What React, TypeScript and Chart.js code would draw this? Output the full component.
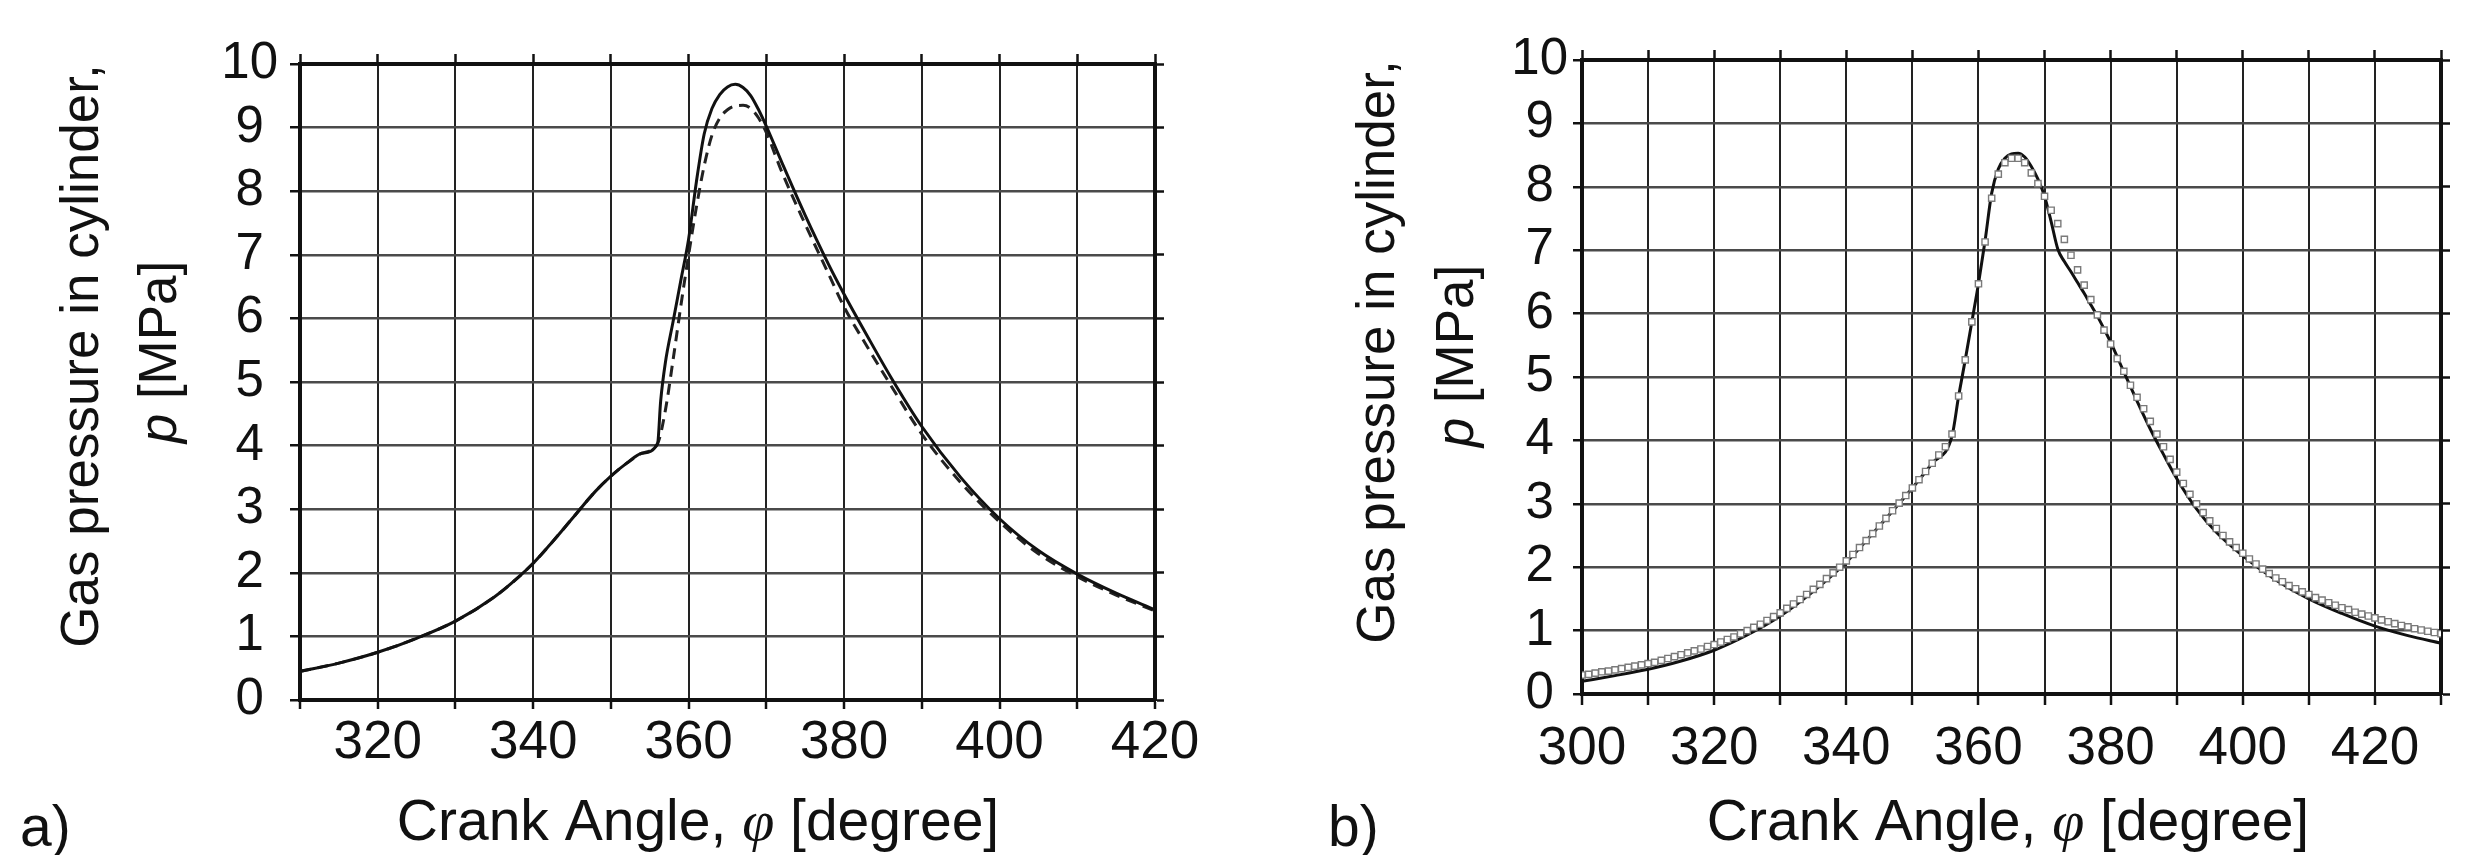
import { useEffect, useRef } from 'react';
import { Chart, registerables } from 'chart.js';

Chart.register(...registerables);

const SANS = '"Liberation Sans", Arial, Helvetica, sans-serif';
const SERIF = '"Liberation Serif", "DejaVu Serif", serif';

// ---------- Panel a) ----------
const aSolidX = [310, 315, 320, 325, 330, 335, 338, 340, 342, 345, 348, 350, 352, 354, 356, 356.4, 357, 358, 359, 360, 361, 362, 363, 364, 365, 366, 367, 368, 369, 370, 372, 375, 378, 380, 383, 386, 390, 395, 400, 405, 410, 415, 420];
const aSolidY = [0.45, 0.58, 0.75, 0.97, 1.24, 1.62, 1.92, 2.15, 2.42, 2.85, 3.28, 3.52, 3.72, 3.88, 4.03, 4.7, 5.3, 5.95, 6.6, 7.25, 8.15, 8.9, 9.3, 9.52, 9.64, 9.68, 9.63, 9.5, 9.28, 9.02, 8.45, 7.62, 6.85, 6.38, 5.72, 5.08, 4.3, 3.5, 2.85, 2.35, 1.98, 1.68, 1.42];

const aDashX = [310, 315, 320, 325, 330, 335, 338, 340, 342, 345, 348, 350, 352, 354, 356, 357, 358, 359, 360, 361, 362, 363, 364, 365, 366, 367, 368, 369, 370, 372, 375, 378, 380, 383, 386, 390, 395, 400, 405, 410, 415, 420];
const aDashY = [0.45, 0.58, 0.75, 0.97, 1.24, 1.62, 1.92, 2.15, 2.42, 2.85, 3.28, 3.52, 3.72, 3.88, 4.03, 4.55, 5.35, 6.2, 7.0, 7.75, 8.4, 8.88, 9.15, 9.28, 9.34, 9.35, 9.3, 9.15, 8.92, 8.3, 7.48, 6.7, 6.18, 5.55, 4.95, 4.18, 3.42, 2.8, 2.3, 1.94, 1.65, 1.4];

const aTickLabels = [320, 340, 360, 380, 400, 420];

// ---------- Panel b) ----------
const bSolidX = [300, 305, 310, 315, 320, 325, 330, 335, 340, 345, 350, 353, 356, 357, 358, 359, 360, 361, 362, 363, 364, 365, 366, 367, 368, 369, 370, 371, 372, 373, 374, 375, 376, 377, 378, 379, 380, 382, 384, 386, 388, 390, 393, 396, 400, 405, 410, 415, 420, 425, 430];
const bSolidY = [0.2, 0.29, 0.39, 0.52, 0.69, 0.93, 1.23, 1.62, 2.08, 2.65, 3.25, 3.64, 4.07, 4.7, 5.27, 5.87, 6.47, 7.15, 7.9, 8.28, 8.45, 8.52, 8.53, 8.47, 8.32, 8.12, 7.85, 7.45, 7.02, 6.82, 6.66, 6.49, 6.32, 6.14, 5.96, 5.76, 5.55, 5.08, 4.62, 4.18, 3.78, 3.4, 2.92, 2.55, 2.18, 1.8, 1.5, 1.27, 1.07, 0.92, 0.8];

const bSquareX = [
  300, 301, 302, 303, 304, 305, 306, 307, 308, 309,
  310, 311, 312, 313, 314, 315, 316, 317, 318, 319,
  320, 321, 322, 323, 324, 325, 326, 327, 328, 329,
  330, 331, 332, 333, 334, 335, 336, 337, 338, 339,
  340, 341, 342, 343, 344, 345, 346, 347, 348, 349,
  350, 351, 352, 353, 354, 355, 356, 357, 358, 359,
  360, 361, 362, 363, 364, 365, 366, 367, 368, 369,
  370, 371, 372, 373, 374, 375, 376, 377, 378, 379,
  380, 381, 382, 383, 384, 385, 386, 387, 388, 389,
  390, 391, 392, 393, 394, 395, 396, 397, 398, 399,
  400, 401, 402, 403, 404, 405, 406, 407, 408, 409,
  410, 411, 412, 413, 414, 415, 416, 417, 418, 419,
  420, 421, 422, 423, 424, 425, 426, 427, 428, 429,
  430,
];
const bSquareY = [
  0.30, 0.31, 0.33, 0.35, 0.36, 0.38, 0.40, 0.42, 0.44, 0.46,
  0.48, 0.50, 0.53, 0.56, 0.59, 0.62, 0.65, 0.68, 0.71, 0.75,
  0.78, 0.82, 0.86, 0.90, 0.95, 1.00, 1.05, 1.10, 1.16, 1.22,
  1.28, 1.35, 1.42, 1.49, 1.57, 1.65, 1.73, 1.82, 1.91, 2.00,
  2.10, 2.20, 2.31, 2.42, 2.53, 2.65, 2.77, 2.89, 3.01, 3.13,
  3.25, 3.38, 3.51, 3.64, 3.77, 3.90, 4.10, 4.70, 5.27, 5.87,
  6.47, 7.13, 7.82, 8.20, 8.38, 8.45, 8.45, 8.38, 8.22, 8.05,
  7.85, 7.63, 7.42, 7.17, 6.92, 6.69, 6.45, 6.22, 5.98, 5.74,
  5.52, 5.29, 5.09, 4.87, 4.68, 4.50, 4.30, 4.10, 3.90, 3.70,
  3.50, 3.32, 3.15, 3.00, 2.86, 2.73, 2.61, 2.50, 2.40, 2.31,
  2.22, 2.13, 2.05, 1.97, 1.90, 1.83, 1.77, 1.71, 1.66, 1.61,
  1.57, 1.52, 1.48, 1.44, 1.40, 1.36, 1.33, 1.29, 1.26, 1.23,
  1.20, 1.17, 1.14, 1.11, 1.08, 1.06, 1.03, 1.01, 0.99, 0.97,
  0.95,
];

const bTickLabels = [300, 320, 340, 360, 380, 400, 420];

const yTickLabels = [0, 1, 2, 3, 4, 5, 6, 7, 8, 9, 10];

const Y_TITLE_1 = 'Gas pressure in cylinder,';
const Y_TITLE_2_ITALIC = 'p';
const Y_TITLE_2_REST = ' [MPa]';
const X_TITLE_A = 'Crank Angle, ';
const X_TITLE_PHI = 'φ';
const X_TITLE_B = ' [degree]';

function pts(xs: number[], ys: number[]) {
  return xs.map((x, i) => ({ x, y: ys[i] }));
}

type Layout = {
  xMin: number;
  xMax: number;
  labels: number[];
  left: number;
  right: number;
  top: number;
  bottom: number;
  xTickLen: number;
  xPad: number;
  yTickLen: number;
  yPad: number;
  panel: string;
  panelX: number;
  xTitleX: number;
  yT1X: number;
  yT1Y: number;
  yT2X: number;
  yT2Y: number;
};

const W = 1240;
const H = 855;

function makeTitlePlugin(L: Layout) {
  return {
    id: 'customTitles',
    afterDraw(chart: any) {
      const ctx: CanvasRenderingContext2D = chart.ctx;
      ctx.save();
      ctx.fillStyle = '#111';
      ctx.textAlign = 'left';
      ctx.textBaseline = 'alphabetic';
      // x title
      const fN = `57px ${SANS}`;
      const fPhi = `italic 58px ${SERIF}`;
      const parts: [string, string][] = [
        [X_TITLE_A, fN],
        [X_TITLE_PHI, fPhi],
        [X_TITLE_B, fN],
      ];
      let total = 0;
      parts.forEach(([t, f]) => {
        ctx.font = f;
        total += ctx.measureText(t).width;
      });
      let x = L.xTitleX - total / 2;
      parts.forEach(([t, f]) => {
        ctx.font = f;
        ctx.fillText(t, x, 840);
        x += ctx.measureText(t).width;
      });
      // panel label
      ctx.font = fN;
      ctx.fillText(L.panel, L.panelX, 846);

      // y title line 1
      const fY = `53px ${SANS}`;
      const fYi = `italic 53px ${SANS}`;
      ctx.save();
      ctx.translate(L.yT1X + 14, L.yT1Y);
      ctx.rotate(-Math.PI / 2);
      ctx.font = fY;
      ctx.textAlign = 'center';
      ctx.fillText(Y_TITLE_1, 0, 0);
      ctx.restore();

      // y title line 2
      ctx.save();
      ctx.translate(L.yT2X + 14, L.yT2Y);
      ctx.rotate(-Math.PI / 2);
      ctx.textAlign = 'left';
      ctx.font = fYi;
      const wP = ctx.measureText(Y_TITLE_2_ITALIC).width;
      ctx.font = fY;
      const wR = ctx.measureText(Y_TITLE_2_REST).width;
      let sx = -(wP + wR) / 2;
      ctx.font = fYi;
      ctx.fillText(Y_TITLE_2_ITALIC, sx, 0);
      sx += wP;
      ctx.font = fY;
      ctx.fillText(Y_TITLE_2_REST, sx, 0);
      ctx.restore();

      ctx.restore();
    },
  };
}

function makeScales(L: Layout) {
  const borderCfg = { display: true, color: '#111', width: 4 };
  const tickCommon = { tickColor: '#111', tickWidth: 2.5 };
  return {
    x: {
      type: 'linear',
      position: 'bottom',
      min: L.xMin,
      max: L.xMax,
      afterFit: (s: any) => {
        s.height = H - L.bottom;
      },
      ticks: {
        stepSize: 10,
        autoSkip: false,
        maxRotation: 0,
        minRotation: 0,
        padding: L.xPad,
        color: '#111',
        font: { family: SANS, size: 53 },
        callback: (v: any) => (L.labels.includes(Number(v)) ? String(v) : ''),
      },
      grid: { color: '#222', lineWidth: 2, tickLength: L.xTickLen, ...tickCommon },
      border: borderCfg,
    },
    x2: {
      type: 'linear',
      position: 'top',
      min: L.xMin,
      max: L.xMax,
      afterFit: (s: any) => {
        s.height = L.top;
      },
      ticks: { display: false, stepSize: 10, autoSkip: false },
      grid: { drawOnChartArea: false, tickLength: 10, ...tickCommon },
      border: borderCfg,
    },
    y: {
      type: 'linear',
      position: 'left',
      min: 0,
      max: 10,
      afterFit: (s: any) => {
        s.width = L.left;
      },
      ticks: {
        stepSize: 1,
        autoSkip: false,
        crossAlign: 'center',
        padding: L.yPad,
        color: '#111',
        font: { family: SANS, size: 51 },
        callback: (v: any) => (yTickLabels.includes(Number(v)) ? String(v) : ''),
      },
      grid: { color: '#4a4a4a', lineWidth: 2.5, tickLength: L.yTickLen, ...tickCommon },
      border: borderCfg,
    },
    y2: {
      type: 'linear',
      position: 'right',
      min: 0,
      max: 10,
      afterFit: (s: any) => {
        s.width = W - L.right;
      },
      ticks: { display: false, stepSize: 1, autoSkip: false },
      grid: { drawOnChartArea: false, tickLength: 9, ...tickCommon },
      border: borderCfg,
    },
  };
}

function makeOptions(L: Layout) {
  return {
    responsive: false,
    animation: false,
    devicePixelRatio: 1,
    layout: { padding: 0 },
    plugins: {
      legend: { display: false },
      tooltip: { enabled: false },
      title: { display: false },
    },
    elements: { line: { tension: 0 } },
    scales: makeScales(L),
  };
}

const layoutA: Layout = {
  xMin: 310,
  xMax: 420,
  labels: aTickLabels,
  left: 300,
  right: 1155,
  top: 64,
  bottom: 700,
  xTickLen: 9,
  xPad: 3,
  yTickLen: 10,
  yPad: 12,
  panel: 'a)',
  panelX: 20,
  xTitleX: 698,
  yT1X: 84,
  yT1Y: 356,
  yT2X: 162,
  yT2Y: 352,
};

const layoutB: Layout = {
  xMin: 300,
  xMax: 430,
  labels: bTickLabels,
  left: 342,
  right: 1201,
  top: 60,
  bottom: 694,
  xTickLen: 11,
  xPad: 13,
  yTickLen: 9,
  yPad: 5,
  panel: 'b)',
  panelX: 88,
  xTitleX: 768,
  yT1X: 140,
  yT1Y: 352,
  yT2X: 219,
  yT2Y: 356,
};

function configA(): any {
  return {
    type: 'line',
    data: {
      datasets: [
        {
          data: pts(aSolidX, aSolidY),
          borderColor: '#111',
          borderWidth: 3,
          pointRadius: 0,
          cubicInterpolationMode: 'monotone',
          fill: false,
        },
        {
          data: pts(aDashX, aDashY),
          borderColor: '#222',
          borderWidth: 3,
          borderDash: [11, 7],
          pointRadius: 0,
          cubicInterpolationMode: 'monotone',
          fill: false,
        },
      ],
    },
    options: makeOptions(layoutA),
    plugins: [makeTitlePlugin(layoutA)],
  };
}

function configB(): any {
  return {
    type: 'line',
    data: {
      datasets: [
        {
          data: pts(bSquareX, bSquareY),
          showLine: false,
          pointStyle: 'rect',
          pointRadius: 4.4,
          borderColor: '#7a7a7a',
          backgroundColor: '#ffffff',
          borderWidth: 1.4,
        },
        {
          data: pts(bSolidX, bSolidY),
          borderColor: '#111',
          borderWidth: 3,
          pointRadius: 0,
          cubicInterpolationMode: 'monotone',
          fill: false,
        },
      ],
    },
    options: makeOptions(layoutB),
    plugins: [makeTitlePlugin(layoutB)],
  };
}

function ChartCanvas({ make, left }: { make: () => any; left: number }) {
  const ref = useRef<HTMLCanvasElement>(null);
  useEffect(() => {
    if (!ref.current) return;
    const chart = new Chart(ref.current, make());
    return () => chart.destroy();
  }, [make]);
  return (
    <canvas
      ref={ref}
      width={W}
      height={H}
      style={{ position: 'absolute', left, top: 0, width: W, height: H }}
    />
  );
}

export default function App() {
  return (
    <div
      style={{
        position: 'fixed',
        left: 0,
        top: 0,
        width: 2480,
        height: 855,
        background: '#ffffff',
        overflow: 'hidden',
      }}
    >
      <ChartCanvas make={configA} left={0} />
      <ChartCanvas make={configB} left={1240} />
    </div>
  );
}
